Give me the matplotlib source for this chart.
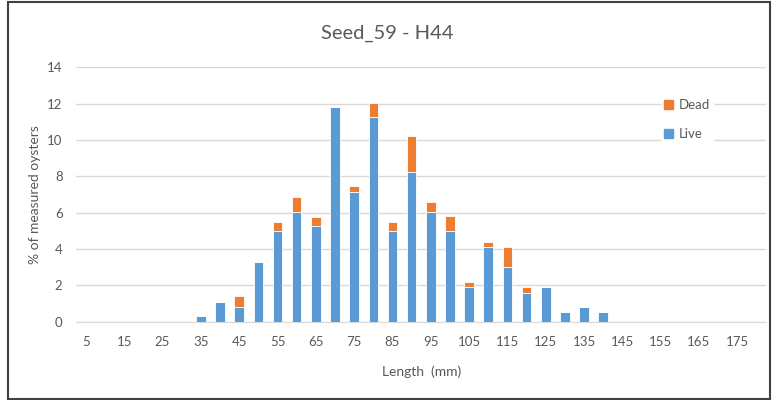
import numpy as np
import matplotlib
matplotlib.use('Agg')
import matplotlib.pyplot as plt
from matplotlib.patches import Rectangle, Patch

plt.rcParams['font.family'] = ['Lato', 'DejaVu Sans']

# data (% of measured oysters per 5 mm class)
lengths = list(range(5, 185, 5))
live = [0, 0, 0, 0, 0, 0, 0.3, 1.1, 0.8, 3.3, 5.0, 6.05, 5.25, 11.8, 7.15, 11.25,
        5.0, 8.25, 6.05, 5.0, 1.9, 4.1, 3.0, 1.6, 1.9, 0.55, 0.8, 0.55,
        0, 0, 0, 0, 0, 0, 0, 0]
dead = [0, 0, 0, 0, 0, 0, 0, 0, 0.6, 0, 0.5, 0.8, 0.5, 0, 0.3, 0.8,
        0.5, 1.95, 0.55, 0.8, 0.3, 0.3, 1.1, 0.3, 0, 0, 0, 0,
        0, 0, 0, 0, 0, 0, 0, 0]
yticks = [0, 2, 4, 6, 8, 10, 12, 14]

blue = '#5B9BD5'
orange = '#ED7D31'
grid = '#D9D9D9'
txt = '#595959'

fig = plt.figure(figsize=(7.75, 4), dpi=100)
ax = fig.add_axes([76.4/775, 1-321.7/400, (766-76.4)/775, (321.7-67.3)/400])

pos = np.arange(len(lengths))
ax.bar(pos, live, width=0.5, color=blue, edgecolor='white', linewidth=0.6, zorder=3)
ax.bar(pos, dead, width=0.5, bottom=live, color=orange, edgecolor='white', linewidth=0.6, zorder=3)

ax.set_xlim(-0.5, len(lengths)-0.5)
ax.set_ylim(0, 14)
ax.set_yticks(yticks)
ax.set_xticks(pos[::2])
ax.set_xticklabels([str(l) for l in lengths[::2]])
ax.yaxis.grid(True, color=grid, lw=1, zorder=0)
ax.set_axisbelow(True)
for s in ['top', 'right', 'left']:
    ax.spines[s].set_visible(False)
ax.spines['bottom'].set_color(grid)
ax.tick_params(length=0, colors=txt, labelsize=9.5)
ax.tick_params(axis='x', pad=10)
ax.tick_params(axis='y', pad=10)

ax.set_xlabel('Length  (mm)', color=txt, fontsize=10, labelpad=13)
ax.set_ylabel('% of measured oysters', color=txt, fontsize=10, labelpad=4)
fig.text(0.5, 1-33/400, 'Seed_59 - H44', ha='center', va='center', color=txt, fontsize=14.5)

handles = [Patch(color=orange), Patch(color=blue)]
leg = ax.legend(handles, ['Dead', 'Live'], loc='upper left', bbox_to_anchor=(655/775, 1-90/400),
                bbox_transform=fig.transFigure, frameon=True, framealpha=1, edgecolor='white',
                fontsize=9.5, handlelength=0.7, handleheight=0.7, handletextpad=0.4,
                labelspacing=1.3, borderpad=0.2)
for t in leg.get_texts():
    t.set_color(txt)

fig.patches.append(Rectangle((8/775, 1/400), 762/775, 397/400, transform=fig.transFigure,
                             fill=False, edgecolor='#404040', lw=1.5))

fig.savefig('out.png', dpi=100)
